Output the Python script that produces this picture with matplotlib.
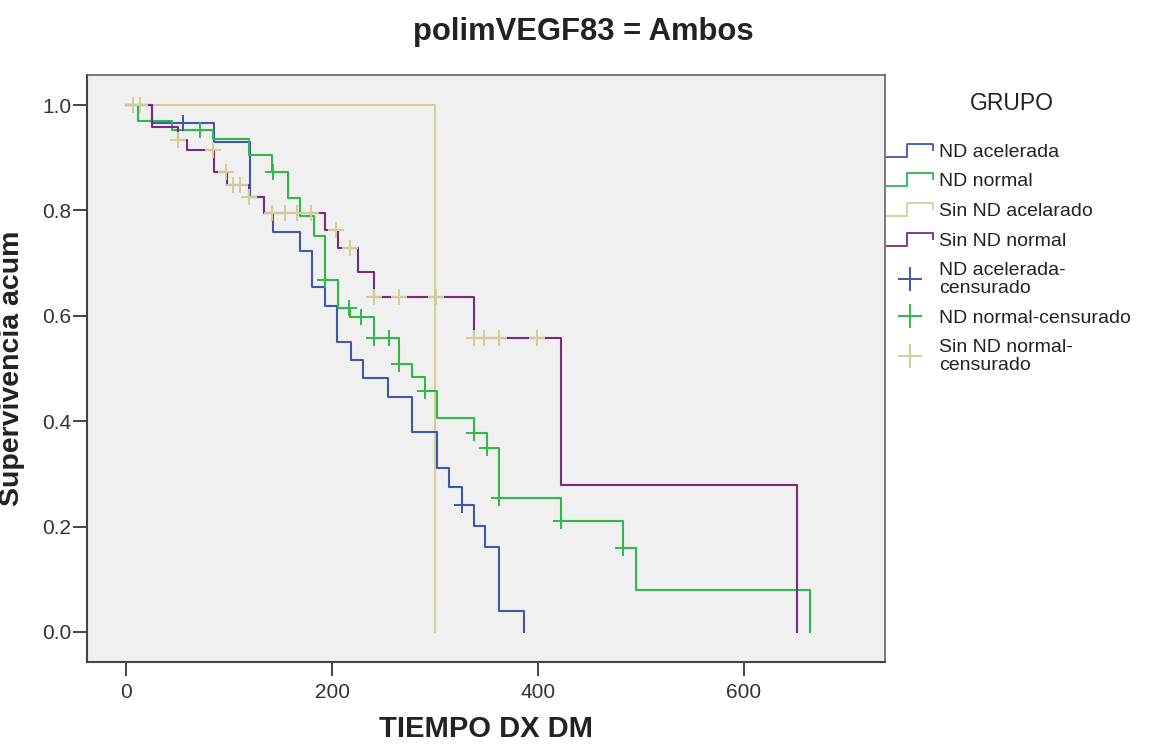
import numpy as np
import matplotlib
matplotlib.use("Agg")
import matplotlib.pyplot as plt
from matplotlib.lines import Line2D
from matplotlib.legend_handler import HandlerBase

plt.rcParams["font.family"]=["Liberation Sans","DejaVu Sans"]

# Kaplan-Meier curves (time, survival after the step)
acel_t=[0,25,85,120,134,143,169,181,193,205,218,230,254,278,302,314,326,338,349,362,386]
acel_s=[1.0,0.966,0.930,0.825,0.795,0.759,0.723,0.655,0.618,0.550,0.516,0.482,0.446,0.380,0.311,0.275,0.241,0.201,0.161,0.040,0.0]
norm_t=[0,12,45,84,119,142,157,169,182,193,206,217,241,265,278,290,302,338,350,362,422,483,495,664]
norm_s=[1.0,0.970,0.953,0.935,0.905,0.873,0.823,0.789,0.751,0.668,0.615,0.598,0.558,0.509,0.484,0.457,0.406,0.378,0.349,0.254,0.211,0.159,0.080,0.0]
sin_acel_t=[0,300]
sin_acel_s=[1.0,0.0]
sin_norm_t=[0,25,50,59,85,98,119,134,193,206,225,241,338,422,652]
sin_norm_s=[1.0,0.958,0.934,0.915,0.873,0.848,0.825,0.795,0.763,0.728,0.683,0.636,0.558,0.279,0.0]

# censored times
acel_cens=[55,326]
norm_cens=[72,143,193,216,228,241,255,265,290,338,350,362,422,483]
sin_norm_cens=[7,13,50,84,97,104,111,119,142,154,166,180,204,217,241,265,301,338,348,362,399]

C_BLUE="#3E58AC"
C_GREEN="#2EB848"
C_BEIGE="#D3CE97"
C_PURPLE="#7C287D"

def surv_at(times,surv,t):
    i=np.searchsorted(times,t,side="right")-1
    return surv[i]

fig=plt.figure(figsize=(11.53,7.44),dpi=100)
ax=fig.add_axes([87/1153,1-662/744,(885-87)/1153,(662-75)/744])
ax.set_facecolor("#F0F0F0")

lw=1.5
ax.step(sin_acel_t,sin_acel_s,where="post",color=C_BEIGE,lw=lw)
ax.step(acel_t,acel_s,where="post",color=C_BLUE,lw=lw)
ax.step(norm_t,norm_s,where="post",color=C_GREEN,lw=lw)
ax.step(sin_norm_t,sin_norm_s,where="post",color=C_PURPLE,lw=lw)

mk=dict(marker="+",ls="none",ms=11,mew=1.4)
ax.plot(acel_cens,[surv_at(acel_t,acel_s,t) for t in acel_cens],color=C_BLUE,**mk)
ax.plot(norm_cens,[surv_at(norm_t,norm_s,t) for t in norm_cens],color=C_GREEN,**mk)
ax.plot(sin_norm_cens,[surv_at(sin_norm_t,sin_norm_s,t) for t in sin_norm_cens],color=C_BEIGE,**mk)

ax.set_xlim(-38,737)
ax.set_ylim(-0.057,1.057)
ax.set_xticks([0,200,400,600])
ax.set_yticks([0.0,0.2,0.4,0.6,0.8,1.0])
ax.set_yticklabels(["0.0","0.2","0.4","0.6","0.8","1.0"])
for s in ["top","right"]:
    ax.spines[s].set_color("#555555")
    ax.spines[s].set_linewidth(1.1)
for s in ["left","bottom"]:
    ax.spines[s].set_color("#444444")
    ax.spines[s].set_linewidth(1.5)
ax.tick_params(direction="out",length=10,width=1.4,color="#444444",labelsize=15,labelcolor="#333333")
ax.tick_params(axis="x",pad=5)
ax.tick_params(axis="y",pad=1.5)

ax.set_xlabel("TIEMPO DX DM",fontsize=21,fontweight="bold",color="#222222",va="center")
ax.xaxis.set_label_coords(0.5,-0.114)
ax.set_ylabel("Supervivencia acum",fontsize=20.5,fontweight="bold",color="#222222")
ax.yaxis.set_label_coords(-0.078,0.5)
fig.text(583/1153,1-32/744,"polimVEGF83 = Ambos",fontsize=22.3,fontweight="bold",color="#222222",
         ha="center",va="center")

class StepHandler(HandlerBase):
    def create_artists(self,legend,orig_handle,xdescent,ydescent,width,height,fontsize,trans):
        xs=np.array([0,0.42,0.42,0.98,0.98])*width-xdescent
        ys=np.array([0.0,0.0,0.95,0.95,0.5])*height-ydescent
        ln=Line2D(xs,ys,color=orig_handle.get_color(),lw=1.3,transform=trans)
        return [ln]

h_lines=[Line2D([],[],color=c) for c in [C_BLUE,C_GREEN,C_BEIGE,C_PURPLE]]
h_cens=[Line2D([],[],color=c,marker="+",ls="none",ms=17,mew=1.4) for c in [C_BLUE,C_GREEN,C_BEIGE]]
labels=["ND acelerada","ND normal","Sin ND acelarado","Sin ND normal",
        "ND acelerada-\ncensurado","ND normal-censurado","Sin ND normal-\ncensurado"]
hmap={h:StepHandler() for h in h_lines}
fig.text(1012/1153,1-103/744,"GRUPO",fontsize=16.5,color="#222222",ha="center",va="center")
leg=fig.legend(h_lines+h_cens,labels,handler_map=hmap,loc="upper left",
               bbox_to_anchor=(887/1153,1-143/744),frameon=False,fontsize=14,
               handlelength=2.4,handletextpad=0.28,
               labelspacing=0.62,borderpad=0,borderaxespad=0)
for t in leg.get_texts():
    t.set_color("#222222")
    t.set_linespacing(1.1)

fig.savefig("out.png",dpi=100)
